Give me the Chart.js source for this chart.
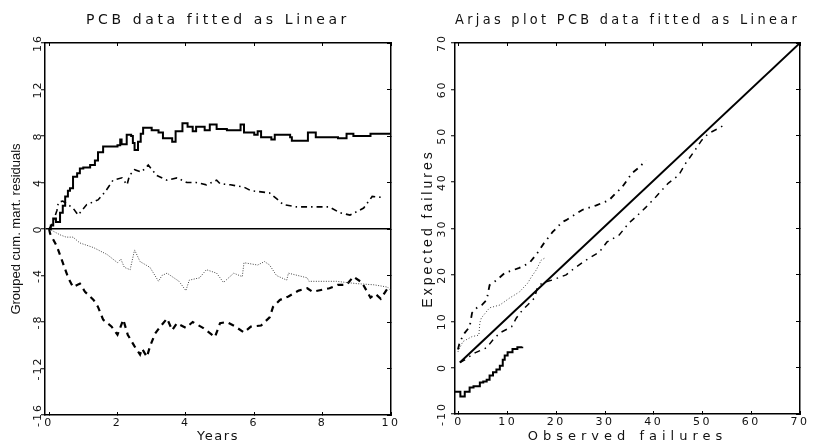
<!DOCTYPE html>
<html>
<head>
<meta charset="utf-8">
<script src="https://cdn.jsdelivr.net/npm/chart.js@4"></script>
<style>
  html, body { margin: 0; padding: 0; background: #fff; }
  #wrap { position: relative; width: 817px; height: 441px; }
  canvas { position: absolute; top: 0; }
  #pcb { left: 0; }
  #arjas { left: 408px; }
</style>
</head>
<body>
<div id="wrap">
  <canvas id="pcb" width="408" height="441"></canvas>
  <canvas id="arjas" width="409" height="441"></canvas>
</div>
<script>
// ---- left panel: grouped cumulative martingale residuals vs years ----
const yearTicks = [0, 2, 4, 6, 8, 10];
const residTicks = [-16, -12, -8, -4, 0, 4, 8, 12, 16];

const solidYears = [0, 0.05, 0.12, 0.2, 0.32, 0.4, 0.47, 0.55, 0.61, 0.7, 0.82, 0.9, 1.0, 1.2, 1.34, 1.43, 1.58, 2.0, 2.08, 2.12, 2.27, 2.4, 2.45, 2.5, 2.6, 2.68, 2.75, 3.0, 3.2, 3.33, 3.6, 3.7, 3.9, 4.05, 4.2, 4.3, 4.55, 4.7, 4.9, 5.2, 5.6, 5.7, 6.0, 6.1, 6.2, 6.5, 6.6, 7.05, 7.1, 7.5, 7.57, 7.8, 8.45, 8.7, 8.9, 9.4, 10.0];
const solidResid = [0, 0.3, 0.9, 0.6, 1.4, 2.0, 2.8, 3.3, 3.5, 4.5, 4.8, 5.2, 5.3, 5.5, 5.9, 6.6, 7.1, 7.2, 7.7, 7.3, 8.1, 8.0, 7.4, 6.8, 7.5, 8.2, 8.7, 8.5, 8.3, 7.8, 7.5, 8.4, 9.1, 8.8, 8.4, 8.8, 8.5, 9.0, 8.6, 8.5, 9.0, 8.3, 8.1, 8.4, 7.9, 7.7, 8.1, 7.9, 7.6, 7.6, 8.3, 7.9, 7.8, 8.2, 8.0, 8.2, 8.2];

const dashDotYears = [0, 0.1, 0.23, 0.27, 0.4, 0.55, 0.7, 0.85, 1.1, 1.43, 1.64, 1.87, 2.13, 2.28, 2.35, 2.5, 2.7, 2.9, 3.15, 3.45, 3.74, 4.03, 4.3, 4.6, 4.9, 5.0, 5.3, 5.7, 5.9, 6.45, 6.7, 6.85, 7.25, 8.2, 8.5, 8.8, 9.2, 9.45, 9.8];
const dashDotResid = [0, 0.5, 1.6, 2.3, 2.4, 2.1, 1.8, 1.2, 2.1, 2.5, 3.2, 4.2, 4.4, 3.8, 4.6, 5.1, 4.9, 5.5, 4.6, 4.2, 4.4, 4.0, 4.0, 3.8, 4.2, 3.9, 3.8, 3.6, 3.3, 3.1, 2.5, 2.1, 1.9, 1.9, 1.4, 1.2, 1.8, 2.8, 2.7];

const dottedYears = [0, 0.32, 0.5, 0.7, 0.9, 1.3, 1.7, 2.0, 2.1, 2.2, 2.37, 2.5, 2.66, 2.95, 3.2, 3.3, 3.45, 3.6, 3.8, 4.0, 4.1, 4.4, 4.6, 4.9, 5.1, 5.4, 5.65, 5.7, 6.1, 6.3, 6.45, 6.65, 6.95, 7.0, 7.55, 7.6, 8.4, 9.0, 9.5, 9.9, 10.0];
const dottedResid = [0, -0.5, -0.7, -0.7, -1.2, -1.6, -2.2, -2.9, -2.6, -3.3, -3.5, -1.8, -2.8, -3.3, -4.5, -4.0, -3.8, -4.1, -4.5, -5.3, -4.4, -4.2, -3.5, -3.8, -4.6, -3.8, -4.1, -2.9, -3.1, -2.8, -3.1, -4.0, -4.4, -3.8, -4.2, -4.5, -4.5, -4.7, -4.8, -5.0, -5.3];

const dashedYears = [0, 0.03, 0.23, 0.4, 0.56, 0.7, 0.9, 1.05, 1.3, 1.43, 1.58, 1.83, 2.0, 2.17, 2.3, 2.5, 2.66, 2.72, 2.86, 2.95, 3.1, 3.25, 3.45, 3.6, 3.74, 4.0, 4.2, 4.5, 4.85, 5.0, 5.2, 5.45, 5.7, 5.9, 6.2, 6.45, 6.55, 6.75, 7.0, 7.3, 7.55, 7.7, 8.2, 8.45, 8.7, 8.9, 9.15, 9.4, 9.55, 9.7, 9.9];
const dashedResid = [0, -0.4, -1.5, -2.9, -4.2, -5.0, -4.7, -5.4, -6.1, -6.7, -7.8, -8.4, -9.1, -7.8, -9.1, -10.1, -10.8, -10.3, -11.0, -10.1, -9.0, -8.4, -7.7, -8.7, -8.1, -8.5, -8.0, -8.5, -9.3, -8.1, -8.0, -8.4, -8.9, -8.4, -8.3, -7.6, -6.7, -6.1, -5.8, -5.3, -5.1, -5.4, -5.1, -4.8, -4.8, -4.1, -4.6, -5.9, -5.6, -6.0, -5.1];

// ---- right panel: Arjas plot, expected vs observed failures ----
const observedTicks = [0, 10, 20, 30, 40, 50, 60, 70];
const expectedTicks = [-10, 0, 10, 20, 30, 40, 50, 60, 70];

const diagObserved = [0.2, 70];
const diagExpected = [1.1, 70];

const arjasSolidObs = [-0.8, 0.3, 1.2, 2.2, 3.0, 4.3, 5.0, 5.7, 6.3, 7.0, 7.7, 8.4, 9.0, 9.4, 10.0, 11.0, 12.0, 13.0];
const arjasSolidExp = [-5.2, -6.2, -5.2, -4.3, -4.0, -3.2, -3.0, -2.6, -1.7, -1.0, -0.4, 0.4, 1.7, 2.6, 3.3, 4.0, 4.4, 4.5];

const arjasDashedObs = [-0.2, 0.2, 1.2, 2.2, 2.7, 3.7, 4.7, 5.7, 6.3, 7.8, 9.4, 12.4, 14.5, 16.1, 17.5, 19.2, 21.2, 22.0, 25.3, 28.2, 30.8, 32.2, 33.5, 35.5, 37.0, 38.4];
const arjasDashedExp = [3.9, 5.6, 7.5, 8.8, 11.8, 12.9, 13.5, 14.6, 17.8, 18.9, 20.4, 21.5, 22.6, 24.7, 26.9, 29.2, 31.4, 31.8, 34.0, 35.0, 36.1, 37.6, 38.9, 41.9, 43.2, 44.7];

const arjasDottedObs = [-0.2, 0.8, 2.7, 4.1, 4.3, 4.6, 6.3, 8.4, 10.4, 12.4, 14.1, 14.9, 15.9, 16.9, 17.6];
const arjasDottedExp = [3.4, 5.6, 6.7, 7.0, 9.7, 10.7, 12.9, 13.5, 15.0, 16.3, 18.2, 19.6, 21.1, 23.2, 23.6];

const arjasDashDotObs = [0.2, 1.2, 3.3, 5.7, 7.0, 8.4, 10.8, 11.8, 13.1, 14.1, 15.5, 16.1, 17.1, 19.2, 22.0, 23.3, 26.1, 28.8, 30.4, 32.9, 34.9, 36.3, 38.4, 40.4, 43.0, 45.1, 46.5, 48.2, 49.8, 51.2, 53.3, 54.7];
const arjasDashDotExp = [1.1, 1.7, 3.2, 4.3, 6.0, 7.5, 8.8, 10.7, 12.5, 13.5, 15.0, 17.2, 18.3, 18.9, 20.0, 21.1, 23.2, 24.9, 27.1, 28.6, 31.2, 32.5, 34.6, 36.8, 39.8, 41.5, 44.0, 46.5, 49.0, 50.5, 51.6, 52.5];

function pts(xs, ys) {
  return xs.map((x, i) => ({ x: x, y: ys[i] }));
}

function line(xs, ys, dash, width, extra) {
  return Object.assign({
    data: pts(xs, ys), xAxisID: 'x', yAxisID: 'y',
    borderColor: '#000', borderWidth: width, borderDash: dash,
    borderCapStyle: 'butt', pointRadius: 0, fill: false, tension: 0
  }, extra || {});
}

// canvas letterSpacing around one draw method (chart.js has no option for it)
function spaced(obj, method, px) {
  if (!obj || obj['_ls_' + method]) return;
  const orig = obj[method];
  obj[method] = function () {
    const ctx = this.ctx;
    const prev = ctx.letterSpacing;
    ctx.letterSpacing = px + 'px';
    orig.apply(this, arguments);
    ctx.letterSpacing = prev;
  };
  obj['_ls_' + method] = true;
}

function frameScales(s) {
  const border = { display: true, color: '#000', width: 1.5 };
  const setTicks = list => sc => { sc.ticks = list.map(v => ({ value: v })); };
  return {
    x: {
      type: 'linear', position: 'bottom', min: s.xMin, max: s.xMax, border: border,
      afterBuildTicks: setTicks(s.xTicks),
      grid: { drawOnChartArea: false, tickLength: -3, tickColor: '#000', tickWidth: 1 },
      ticks: { autoSkip: false, maxRotation: 0, padding: 5, color: '#111', font: { family: 'DejaVu Sans', size: 11 } },
      title: { display: true, text: s.xTitle, color: '#111', font: { family: 'DejaVu Sans', size: 13, lineHeight: 1 }, padding: { top: 0, bottom: -2.5 } },
      afterFit: sc => { sc.height = s.xHeight; spaced(sc, 'drawLabels', 2.5); spaced(sc, 'drawTitle', s.xTitleGap); }
    },
    x2: {
      type: 'linear', position: 'top', min: s.xMin, max: s.xMax, border: border,
      afterBuildTicks: setTicks(s.xTicks),
      grid: { drawOnChartArea: false, tickLength: -3, tickColor: '#000', tickWidth: 1 },
      ticks: { display: false },
      afterFit: sc => { sc.height = 0; }
    },
    y: {
      type: 'linear', position: 'left', min: s.yMin, max: s.yMax, border: border,
      afterBuildTicks: setTicks(s.yTicks),
      grid: {
        drawOnChartArea: true, tickLength: 4, tickColor: '#000', tickWidth: 1, lineWidth: 1.5,
        color: c => (s.zeroLine && c.tick && c.tick.value === 0) ? '#000' : 'rgba(0,0,0,0)'
      },
      ticks: { autoSkip: false, minRotation: 90, maxRotation: 90, crossAlign: 'center', padding: s.yTickPad, color: '#111', font: { family: 'DejaVu Sans', size: 11 } },
      title: { display: true, text: s.yTitle, color: '#111', font: { family: 'Liberation Sans', size: s.yTitleSize, lineHeight: 1 }, padding: { top: s.yTitlePad, bottom: 0 } },
      afterFit: sc => { sc.width = s.yWidth; spaced(sc, 'drawLabels', 2); spaced(sc, 'drawTitle', s.yTitleGap); }
    },
    y2: {
      type: 'linear', position: 'right', min: s.yMin, max: s.yMax, border: border,
      afterBuildTicks: setTicks(s.yTicks),
      grid: { drawOnChartArea: false, tickLength: -4, tickColor: '#000', tickWidth: 1 },
      ticks: { display: false },
      afterFit: sc => { sc.width = 0; }
    }
  };
}

const spacedTitle = {
  id: 'spacedTitle',
  afterLayout(chart) { spaced(chart.titleBlock, 'draw', 3.6); }
};

function makeChart(id, title, datasets, scales) {
  return new Chart(document.getElementById(id), {
    type: 'line',
    data: { datasets: datasets },
    plugins: [spacedTitle],
    options: {
      responsive: false,
      animation: false,
      devicePixelRatio: 1,
      layout: { padding: { left: 0, right: 17, top: 0, bottom: 0 } },
      plugins: {
        legend: { display: false },
        tooltip: { enabled: false },
        title: {
          display: true, text: title, fullSize: false, color: '#111',
          font: { family: 'DejaVu Sans', size: 14, weight: 'normal', lineHeight: 1.2 },
          padding: { top: 11.6, bottom: 14.6 }
        }
      },
      scales: scales
    }
  });
}

makeChart('pcb', 'PCB data fitted as Linear', [
  line(solidYears, solidResid, [], 2, { stepped: true }),
  line(dashDotYears, dashDotResid, [6, 4, 1.5, 4], 1.6),
  line(dottedYears, dottedResid, [1, 1.5], 1, { borderColor: '#444' }),
  line(dashedYears, dashedResid, [6, 5], 2.2)
], frameScales({
  xMin: -0.12, xMax: 10, xTicks: yearTicks, xTitle: 'Years', xTitleGap: 1.5, xHeight: 26,
  yMin: -16, yMax: 16, yTicks: residTicks, yTitle: 'Grouped cum. mart. residuals', yTitleSize: 13,
  yTitleGap: 0, yTitlePad: 9.5, yTickPad: -6.5, yWidth: 45, zeroLine: true
}));

makeChart('arjas', 'Arjas plot PCB data fitted as Linear', [
  line(diagObserved, diagExpected, [], 2),
  line(arjasSolidObs, arjasSolidExp, [], 2, { stepped: true }),
  line(arjasDashedObs, arjasDashedExp, [6, 5, 1.5, 5], 1.8),
  line(arjasDottedObs, arjasDottedExp, [1, 2], 1, { borderColor: '#444' }),
  line(arjasDashDotObs, arjasDashDotExp, [6, 5, 1.5, 5], 1.5)
], frameScales({
  xMin: -0.8, xMax: 70, xTicks: observedTicks, xTitle: 'Observed failures', xTitleGap: 5, xHeight: 27,
  yMin: -10, yMax: 70, yTicks: expectedTicks, yTitle: 'Expected failures', yTitleSize: 14,
  yTitleGap: 3, yTitlePad: 13, yTickPad: -0.5, yWidth: 47, zeroLine: false
}));
</script>
</body>
</html>
